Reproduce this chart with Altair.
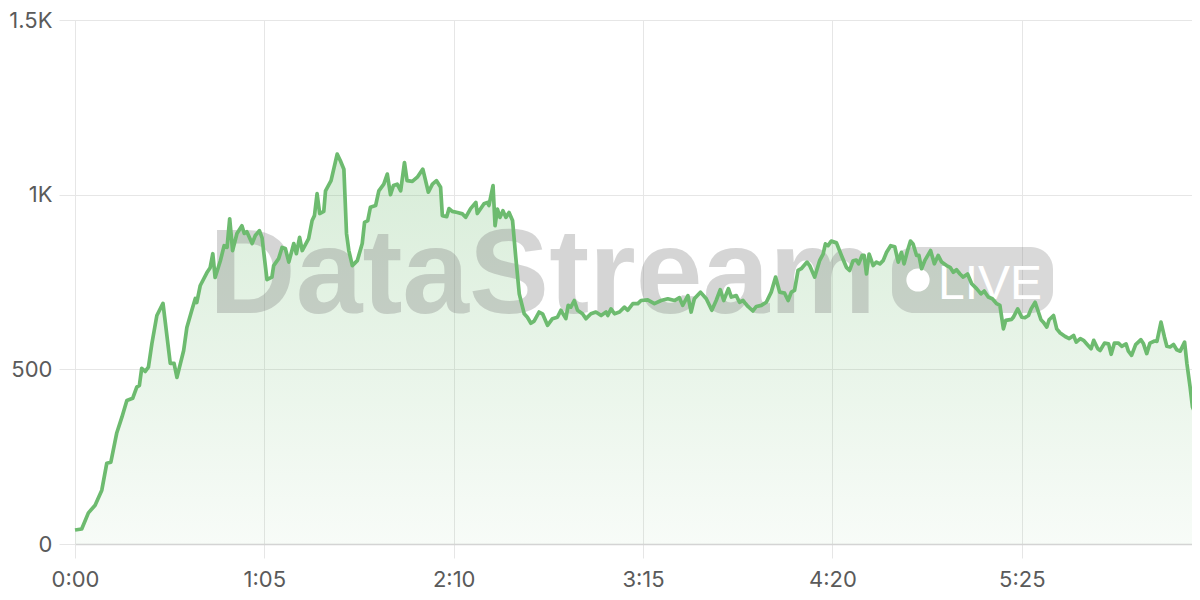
import altair as alt
import pandas as pd

# elapsed seconds and viewer values
seconds = [
    0, 2.3, 4.6, 6.9, 9.2, 10.9, 12.3, 14.3, 16.1, 17.8, 19.8, 21.2, 22.1, 22.9, 24.1, 25.2,
    26.4, 28.1, 30.2, 32.7, 34, 35, 37.3, 38.4, 40.1, 41.3, 41.8, 43, 45.3, 46.4, 47.3, 48.1,
    49.9, 51.2, 52.2, 53.1, 54.1, 55.6, 57.3, 58.1, 59, 60.8, 61.9, 63.3, 64.2,
    65.9, 67.6, 68.2, 69.9, 71.1, 72.2, 73.4, 75.1, 76, 77.1, 78, 80.2, 81.4, 82.2, 83.1, 84,
    85.4, 86, 87.9, 90, 91.1, 92.3, 93.2, 94, 95.2, 96.9, 98.6, 99.4, 100.5, 101.4, 103.2,
    104.3, 106, 107.2, 108.3, 109.3, 110.6, 111.8, 113.1, 114, 115.8, 117.5, 119.4, 121.3,
    122.7, 124.1, 125.5, 126.1, 127.6, 128.4, 129.5,
    131.3, 133, 134.1, 135.8, 137.6, 138.1, 140.4, 141.6, 142.1, 143.5, 144.2, 145, 145.9,
    146.9, 147.9, 149, 150.2, 151.3, 152.5, 154.2, 155.3, 156.5, 157.6, 159.3, 160.5, 162.2,
    163.9, 165.6, 166.8, 168.5, 169.3, 170.2, 171.4, 172.5, 174.2, 175.4, 177.1, 178.8, 180.6,
    182.3, 182.9, 184, 185.2, 186.9, 188.6, 189.7, 191.5, 193.2, 194.3,
    196.6, 198.9, 201.2, 203.5, 205.8, 207.5, 208.6, 210.4, 211.5, 212.6, 214.7, 216.7, 218.6,
    220.1, 221.5, 222.7, 224.3, 225.3, 227, 228.1, 229.3, 231, 232.7, 233.9, 235.6, 237.3, 239,
    240.5, 241.9, 243.6, 244.8, 245.9, 247, 248.2, 249.3, 251.3, 252.2, 253.9, 255.6, 256.8,
    257.6, 258.5, 259.6, 261.4,
    263.1, 264.8, 265.9, 267.1, 268.2, 269, 270.2, 270.9, 271.7, 272.6, 274, 275.1, 276.3, 277.4,
    278.6, 280, 281.4, 282.6, 283.7, 284.6, 285.8, 286.8, 287.7, 288.9, 289.7, 290.6, 291.7,
    293.7, 295, 296.3, 297.5, 299.2, 300.4, 301.5, 302.6, 303.8, 304.9, 306.4, 307.8, 309.5,
    311, 312.1, 313.5, 314.9, 316.4, 317.5, 318.7, 319.5, 321.5, 322.1, 323.6, 325, 326.1,
    327.3, 328.2,
    329.6, 331.6, 332.4, 333.6, 334.4, 335.9, 337, 338.2, 339.9, 341.3, 342.8, 343.7, 345.1,
    346.2, 347.7, 348.8, 349.7, 351.1, 351.9, 353.4, 354.8, 355.7, 356.8, 358.2, 359.3, 360.8,
    361.6, 362.7, 364.1, 365.9, 366.8, 367.9, 369, 370.6, 371.4, 372.8, 374, 374.8, 375.9,
    377.1, 378.2, 379.4, 380.9, 381.7, 382.8, 383.6, 384.6, 385.5,
]
viewers = [
    40, 43, 89, 111, 154, 231, 234, 317, 363, 411, 417, 449, 454, 503, 494, 506,
    574, 654, 689, 517, 517, 477, 554, 620, 669, 703, 691, 740, 777, 791, 831, 763,
    811, 854, 849, 931, 840, 889, 911, 889, 894, 860, 883, 897, 877,
    757, 764, 797, 817, 849, 846, 807, 860, 831, 878, 840, 874, 926, 940, 1003, 946,
    952, 1011, 1040, 1116, 1097, 1073, 889, 840, 797, 811, 860, 921, 926, 964, 969,
    1011, 1030, 1059, 1000, 1026, 1030, 1011, 1092, 1040, 1038, 1050, 1073, 1007,
    1030, 1040, 1021, 940, 937, 960, 952,
    949, 945, 935, 960, 978, 946, 974, 978, 969, 1026, 911, 959, 935,
    954, 935, 949, 926, 821, 716, 659, 649, 632, 638, 664, 659, 626,
    645, 649, 669, 645, 683, 678, 697, 669, 659, 645, 659, 664, 654,
    664, 654, 673, 659, 664, 678, 669, 688, 688, 697,
    699, 688, 697, 702, 697, 705, 683, 711, 664, 702, 721, 702, 669,
    697, 728, 697, 731, 707, 711, 692, 697, 680, 667, 680, 683, 692, 721,
    764, 721, 718, 697, 721, 726, 783, 788, 807, 797, 764, 811, 830,
    859, 854, 867, 862,
    826, 792, 783, 811, 813, 802, 826, 826, 773, 830, 797, 807, 802, 811,
    835, 854, 851, 807, 835, 802, 840, 867, 859, 826, 826, 788, 811,
    840, 802, 826, 807, 797, 792, 778, 785, 773, 764, 773, 745, 731,
    716, 724, 707, 702, 688, 683, 616, 640, 643, 649, 673, 649, 648,
    654, 673,
    692, 642, 635, 621, 642, 654, 616, 604, 594, 588, 597, 578, 588,
    583, 569, 559, 583, 559, 554, 575, 573, 543, 575, 575, 566, 573,
    552, 540, 571, 585, 573, 545, 575, 581, 580, 635, 592, 566, 564,
    571, 556, 552, 578, 516, 449, 392, 373, 364,
]
x_ticks = [0, 65, 130, 195, 260, 325]
y_ticks = [0, 500, 1000, 1500]
watermark_word = ["DataStream"]
badge_word = ["LIVE"]

df = pd.DataFrame({"t": seconds, "v": viewers})
one = pd.DataFrame({"k": [0]})

GREEN = "#6dbb6f"
FONT = "Inter"

x_enc = alt.X(
    "t:Q",
    scale=alt.Scale(domain=[0, 385.5], nice=False, zero=False),
    axis=alt.Axis(
        values=x_ticks,
        title=None,
        labelExpr="floor(datum.value/60) + ':' + (datum.value % 60 < 10 ? '0' : '') + (datum.value % 60)",
        grid=True,
        gridColor="#e6e6e6",
        tickColor="#e6e6e6",
        tickSize=14,
        domainColor="#d4d4d4",
        domainWidth=1.5,
        labelPadding=11,
        labelFontSize=22,
        labelColor="#5a5a5a",
        labelFont=FONT,
        labelFlush=False,
    ),
)
y_enc = alt.Y(
    "v:Q",
    scale=alt.Scale(domain=[0, 1500], nice=False),
    axis=alt.Axis(
        values=y_ticks,
        title=None,
        labelExpr="datum.value >= 1000 ? (datum.value/1000) + 'K' : datum.value + ''",
        grid=True,
        gridColor="#e6e6e6",
        tickColor="#e6e6e6",
        tickSize=16,
        domain=False,
        labelPadding=7,
        labelFontSize=22,
        labelColor="#5a5a5a",
        labelFont=FONT,
    ),
)

area = alt.Chart(df).mark_area(
    interpolate="linear",
    color=alt.Gradient(
        gradient="linear",
        stops=[
            alt.GradientStop(color="rgba(109,187,111,0.27)", offset=0),
            alt.GradientStop(color="rgba(109,187,111,0.05)", offset=1),
        ],
        x1=1, x2=1, y1=0, y2=1,
    ),
).encode(x=x_enc, y=y_enc)

wm_text = alt.Chart(pd.DataFrame({"w": watermark_word})).mark_text(
    font="Liberation Sans", fontWeight="bold", fontSize=120, align="left",
    baseline="alphabetic", color="#808080", opacity=0.32,
).encode(text="w:N", x=alt.value(134), y=alt.value(293))

badge = alt.Chart(one).mark_rect(
    color="#808080", opacity=0.3, cornerRadius=22,
).encode(x=alt.value(817), x2=alt.value(978), y=alt.value(227), y2=alt.value(293))

dot = alt.Chart(one).mark_circle(
    color="white", opacity=1, size=540,
).encode(x=alt.value(843), y=alt.value(260))

live = alt.Chart(pd.DataFrame({"w": badge_word})).mark_text(
    font="Liberation Sans", fontSize=48, align="left", baseline="alphabetic", color="white",
).encode(text="w:N", x=alt.value(863), y=alt.value(279))

line = alt.Chart(df).mark_line(
    interpolate="linear", color=GREEN, strokeWidth=3.7, strokeJoin="round",
).encode(x="t:Q", y="v:Q")

chart = alt.layer(area, wm_text, badge, dot, live, line).properties(
    width=1123,
    height=524,
    autosize=alt.AutoSizeParams(type="none"),
    padding={"left": 67, "top": 12, "right": -6, "bottom": 48},
).configure_view(stroke=None).configure(background="white")

chart.save("out.html", embed_options={"renderer": "svg", "actions": False})
